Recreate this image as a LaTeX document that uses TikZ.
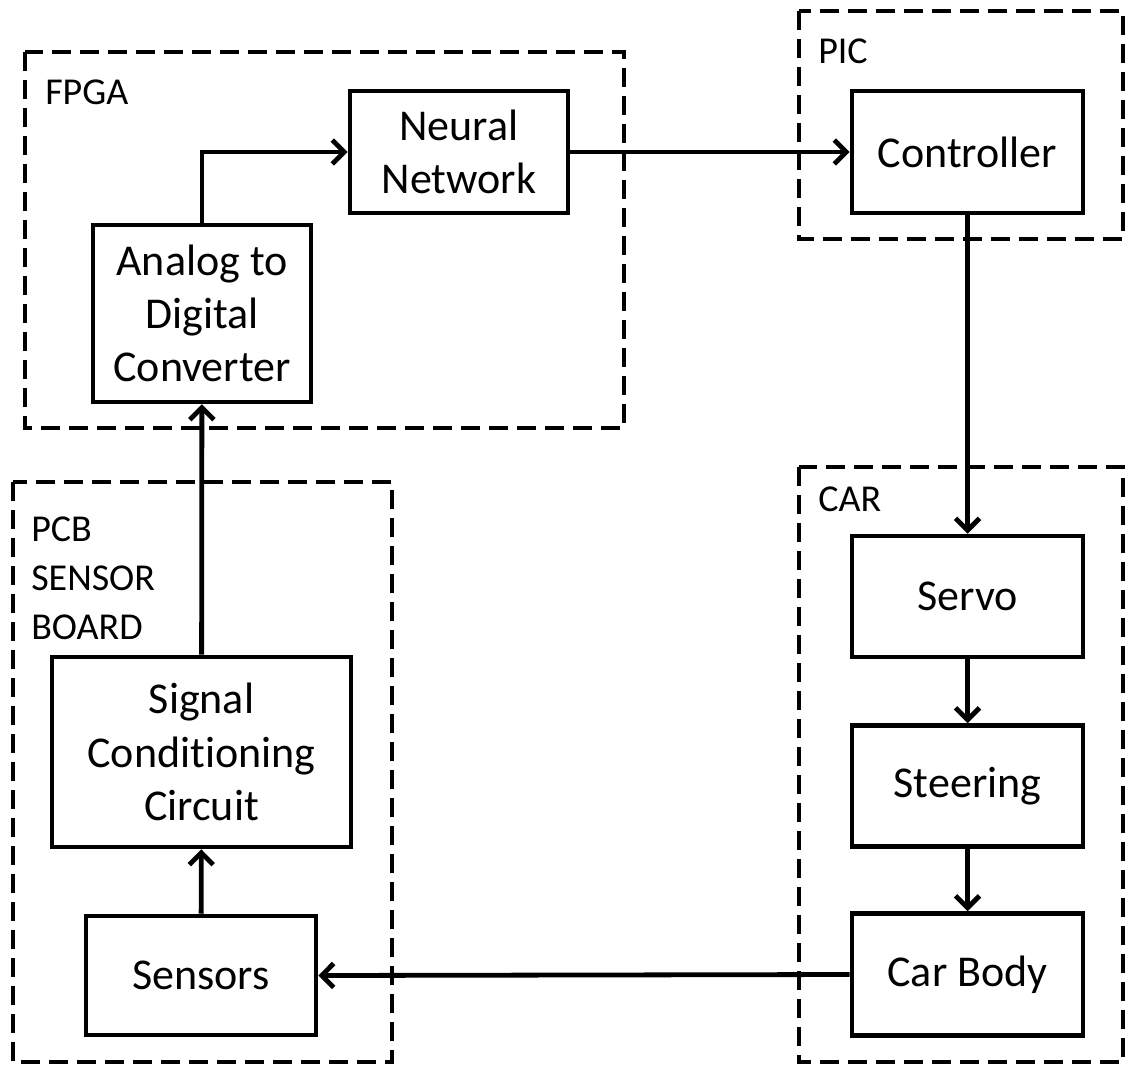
\documentclass[tikz,border=0pt]{standalone}
\usepackage{fontspec}
\setmainfont[Ligatures={NoCommon,NoContextual,NoRequired},Contextuals=NoAlternate]{Carlito}
\usetikzlibrary{arrows.meta}

\begin{document}
\begin{tikzpicture}[x=0.75pt,y=0.75pt,yscale=-1,xscale=1,
	blk/.style={draw,line width=3.4pt,align=center,inner sep=0pt,font=\fontsize{33}{40}\selectfont},
	grp/.style={line width=3.4pt,dash pattern=on 14pt off 7pt},
	lbl/.style={anchor=north west,inner sep=0pt,align=left,font=\fontsize{28.5}{36.75}\selectfont},
	arr/.style={line width=3.6pt,-{Straight Barb[length=9pt,width=18pt,line width=3.6pt]}}]
	\path[use as bounding box] (0,0) rectangle (1131,1067);

	%Dashed groups
	\draw[grp] (25,52) rectangle (624,428);
	\draw[grp] (799,11) rectangle (1123,239);
	\draw[grp] (799,467) rectangle (1123,1062);
	\draw[grp] (13,482) rectangle (392,1062);

	% Group labels
	\node[lbl] (fpgalbl) at (45,80) {FPGA};
	\node[lbl] (piclbl) at (818,39) {PIC};
	\node[lbl] (carlbl) at (818,487) {CAR};
	\node[lbl] (pcblbl) at (31,517) {PCB\\SENSOR\\BOARD};

	% Blocks
	\node[blk,minimum width=163.5pt,minimum height=91.5pt] (nn) at (459,152) {Neural\\Network};
	\node[blk,minimum width=163.5pt,minimum height=132.75pt] (adc) at (202,313.5) {Analog to\\Digital\\Converter};
	\node[blk,minimum width=173.25pt,minimum height=91.5pt] (ctrl) at (967.5,152) {Controller};
	\node[blk,minimum width=173.25pt,minimum height=90.75pt] (servo) at (967.5,596.5) {Servo};
	\node[blk,minimum width=173.25pt,minimum height=90.75pt] (steer) at (967.5,786) {Steering};
	\node[blk,minimum width=173.25pt,minimum height=91.5pt] (body) at (967.5,974.5) {Car Body};
	\node[blk,minimum width=224.25pt,minimum height=142.5pt] (scc) at (201.5,752) {Signal\\Condit{\kern0pt}ioning\\Circuit};
	\node[blk,minimum width=172.5pt,minimum height=89.25pt] (sens) at (201,975.5) {Sensors};

	% Connectors
	\draw[arr] (adc.north) |- (nn.west);
	\draw[arr] (nn) -- (ctrl);
	\draw[arr] (ctrl) -- (servo);
	\draw[arr] (servo) -- (steer);
	\draw[arr] (steer) -- (body);
	\draw[arr] (body.west) -- (sens.east);
	\draw[arr] (sens) -- (scc);
	\draw[arr] (scc) -- (adc);
\end{tikzpicture}
\end{document}
